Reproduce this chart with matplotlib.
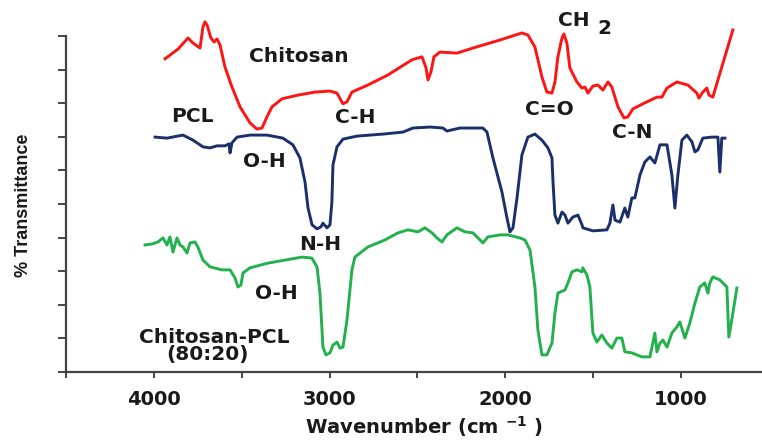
import matplotlib
matplotlib.use("Agg")
import matplotlib.pyplot as plt

# FTIR spectra (wavenumber in cm-1, transmittance in arbitrary %)
chitosan_wn = [3937, 3863, 3806, 3778, 3738, 3721, 3710, 3698, 3676, 3658, 3641, 3624,
               3596, 3556, 3510, 3453, 3414, 3385, 3357, 3328, 3271, 3180, 3083, 2998,
               2958, 2924, 2901, 2873, 2782, 2668, 2531, 2474, 2451, 2440, 2423, 2406,
               2372, 2275, 2184, 2030, 1905, 1871, 1831, 1791, 1763, 1734, 1717, 1700,
               1677, 1666, 1649, 1632, 1592, 1563, 1546, 1529, 1501, 1472, 1444, 1415,
               1393, 1358, 1324, 1302, 1273, 1205, 1136, 1108, 1079, 1023, 960, 909,
               897, 875, 852, 840, 818, 789, 738, 704]
chitosan_t = [93.2, 96.1, 99.4, 97.9, 96.4, 102.7, 104.2, 103.3, 99.4, 98.2, 99.1, 97.3,
              90.8, 84.8, 78.9, 74.1, 72.3, 72.6, 75.9, 78.9, 81.3, 82.4, 83.3, 83.6,
              83.0, 79.8, 80.4, 83.3, 85.4, 88.4, 92.9, 93.8, 90.5, 86.9, 89.3, 93.8,
              95.2, 94.9, 96.4, 98.8, 100.9, 100.3, 96.7, 87.8, 83.3, 83.0, 86.3, 93.8,
              99.4, 100.6, 97.9, 90.5, 86.3, 84.5, 84.8, 83.0, 85.1, 85.4, 83.9, 86.3,
              84.8, 78.9, 75.6, 75.9, 78.3, 80.1, 81.8, 81.8, 84.5, 86.3, 85.4, 83.0,
              81.5, 83.3, 84.5, 82.4, 81.8, 86.9, 95.8, 101.8]

pcl_wn = [3994, 3926, 3835, 3778, 3721, 3681, 3641, 3596, 3573, 3567, 3556, 3527,
          3453, 3357, 3266, 3209, 3169, 3140, 3123, 3100, 3072, 3049, 3038, 3015,
          2998, 2987, 2981, 2958, 2924, 2844, 2696, 2582, 2526, 2429, 2355, 2332,
          2258, 2201, 2127, 2104, 2070, 2019, 1990, 1973, 1956, 1933, 1905, 1871,
          1831, 1791, 1757, 1734, 1728, 1717, 1700, 1677, 1660, 1643, 1615, 1586,
          1563, 1558, 1501, 1421, 1404, 1387, 1375, 1347, 1319, 1302, 1279, 1262,
          1233, 1205, 1176, 1148, 1119, 1079, 1051, 1034, 1017, 994, 966, 937,
          920, 903, 875, 823, 789, 778, 767, 749]
pcl_t = [69.9, 69.6, 70.5, 69.0, 67.0, 66.7, 67.3, 67.3, 67.9, 65.2, 68.2, 69.9,
         70.5, 70.5, 69.6, 67.6, 63.7, 56.5, 48.8, 43.8, 42.6, 43.2, 44.3, 42.9,
         43.8, 50.6, 61.6, 67.0, 69.3, 70.2, 70.8, 71.4, 72.6, 72.9, 72.6, 71.7,
         72.6, 72.6, 72.6, 71.4, 63.7, 53.6, 45.8, 41.7, 42.9, 51.8, 64.6, 69.9,
         70.8, 69.0, 66.7, 63.7, 56.5, 46.7, 44.3, 47.6, 46.7, 44.3, 46.1, 46.7,
         43.8, 42.9, 42.0, 42.3, 44.3, 49.7, 45.2, 44.6, 48.8, 46.1, 51.8, 51.8,
         58.6, 62.5, 64.0, 62.2, 67.6, 67.6, 58.6, 48.8, 58.6, 69.0, 70.5, 68.5,
         65.5, 66.1, 69.6, 69.9, 69.9, 59.5, 69.6, 69.6]

blend_wn = [4051, 4011, 3977, 3949, 3926, 3909, 3892, 3869, 3852, 3835, 3812, 3795,
            3767, 3750, 3721, 3681, 3613, 3567, 3539, 3522, 3505, 3493, 3453, 3351,
            3254, 3157, 3101, 3072, 3055, 3038, 3021, 2998, 2981, 2958, 2941, 2924,
            2901, 2873, 2856, 2782, 2685, 2611, 2554, 2497, 2457, 2417, 2389, 2360,
            2332, 2275, 2229, 2184, 2155, 2127, 2099, 2030, 1985, 1916, 1888, 1859,
            1831, 1814, 1791, 1763, 1734, 1717, 1700, 1660, 1643, 1620, 1592, 1563,
            1558, 1535, 1518, 1501, 1478, 1450, 1421, 1393, 1364, 1336, 1319, 1279,
            1222, 1176, 1148, 1136, 1119, 1102, 1079, 1051, 1023, 1006, 977, 949,
            920, 892, 864, 846, 835, 818, 778, 738, 727, 710, 681]
blend_t = [37.8, 38.1, 38.7, 39.9, 37.8, 40.2, 35.7, 39.9, 37.8, 37.2, 35.4, 38.4,
           38.7, 37.2, 33.3, 31.3, 30.4, 30.4, 28.0, 25.3, 25.9, 29.5, 31.0, 32.4,
           33.3, 34.2, 33.9, 31.3, 23.5, 7.4, 5.1, 5.7, 8.0, 8.9, 7.1, 7.4,
           15.5, 30.4, 34.2, 37.2, 39.3, 41.4, 42.3, 41.7, 42.9, 41.4, 39.9, 38.7,
           40.8, 42.9, 41.7, 41.4, 39.9, 38.4, 40.2, 40.8, 40.8, 39.9, 39.3, 36.3,
           25.3, 12.5, 5.1, 5.1, 8.6, 17.6, 23.5, 24.4, 26.5, 29.8, 30.4, 29.8,
           31.0, 28.9, 25.3, 11.6, 8.9, 11.0, 8.6, 7.1, 10.1, 10.1, 6.0, 5.7,
           4.5, 4.5, 11.6, 6.0, 8.6, 9.5, 7.4, 11.6, 13.4, 14.9, 10.1, 14.6,
           20.5, 25.3, 26.5, 23.5, 26.5, 28.3, 27.4, 25.3, 10.4, 15.5, 25.0]

# annotation text: (label, wavenumber, transmittance)
labels = [("Chitosan", 3175, 93.8), ("PCL", 3784, 75.9), ("C-H", 2856, 75.6),
          ("O-H", 3374, 62.5), ("CH", 1609, 104.5), ("C=O", 1746, 78.0),
          ("C-N", 1279, 71.4), ("N-H", 3055, 37.8), ("O-H", 3305, 23.5),
          ("Chitosan-PCL", 3658, 10.4), ("(80:20)", 3693, 5.1)]

xticks = [4500, 4000, 3500, 3000, 2500, 2000, 1500, 1000]
xticklabels = ["", "4000", "", "3000", "", "2000", "", "1000"]

fig = plt.figure(figsize=(7.62, 4.40), dpi=100)
ax = fig.add_axes([66 / 762, 68 / 440, 696 / 762, 372 / 440])

ax.plot(chitosan_wn, chitosan_t, color="#ff1414", lw=2.1)
ax.plot(pcl_wn, pcl_t, color="#1b2f6b", lw=2.1)
ax.plot(blend_wn, blend_t, color="#22b14c", lw=2.1)

ax.set_xlim(4501, 538)
ax.set_ylim(0, 110.7)

for s in ["top", "right"]:
    ax.spines[s].set_visible(False)
ax.spines["left"].set_bounds(0, 100)
for s in ["left", "bottom"]:
    ax.spines[s].set_color("#444444")
    ax.spines[s].set_linewidth(1.6)

ax.set_yticks(range(0, 101, 10))
ax.set_yticklabels([])
ax.tick_params(axis="y", direction="out", length=6, width=1.4, color="#444444")
ax.set_xticks(xticks)
ax.set_xticklabels(xticklabels, fontsize=14, fontweight="bold", color="#1a1a1a")
ax.tick_params(axis="x", direction="out", length=4, width=1.4, color="#444444", pad=9)

for txt, wn, t in labels:
    ax.text(wn, t, txt, fontsize=14.5, fontweight="bold", color="#1a1a1a",
            ha="center", va="center")
ax.text(1438, 102.2, "2", fontsize=14.5, fontweight="bold", color="#1a1a1a",
        ha="center", va="center")

fig.text(24 / 762, 1 - 205 / 440, "% Transmittance", rotation=90, fontsize=13,
         fontweight="bold", family=["Liberation Sans", "DejaVu Sans"], color="#1a1a1a",
         ha="center", va="center")
fig.text(424 / 762, 1 / 440, r"Wavenumber (cm $^{\mathbf{-1}}$ )", fontsize=14,
         fontweight="bold", color="#1a1a1a", ha="center", va="bottom")

fig.savefig("out.png", dpi=100)
